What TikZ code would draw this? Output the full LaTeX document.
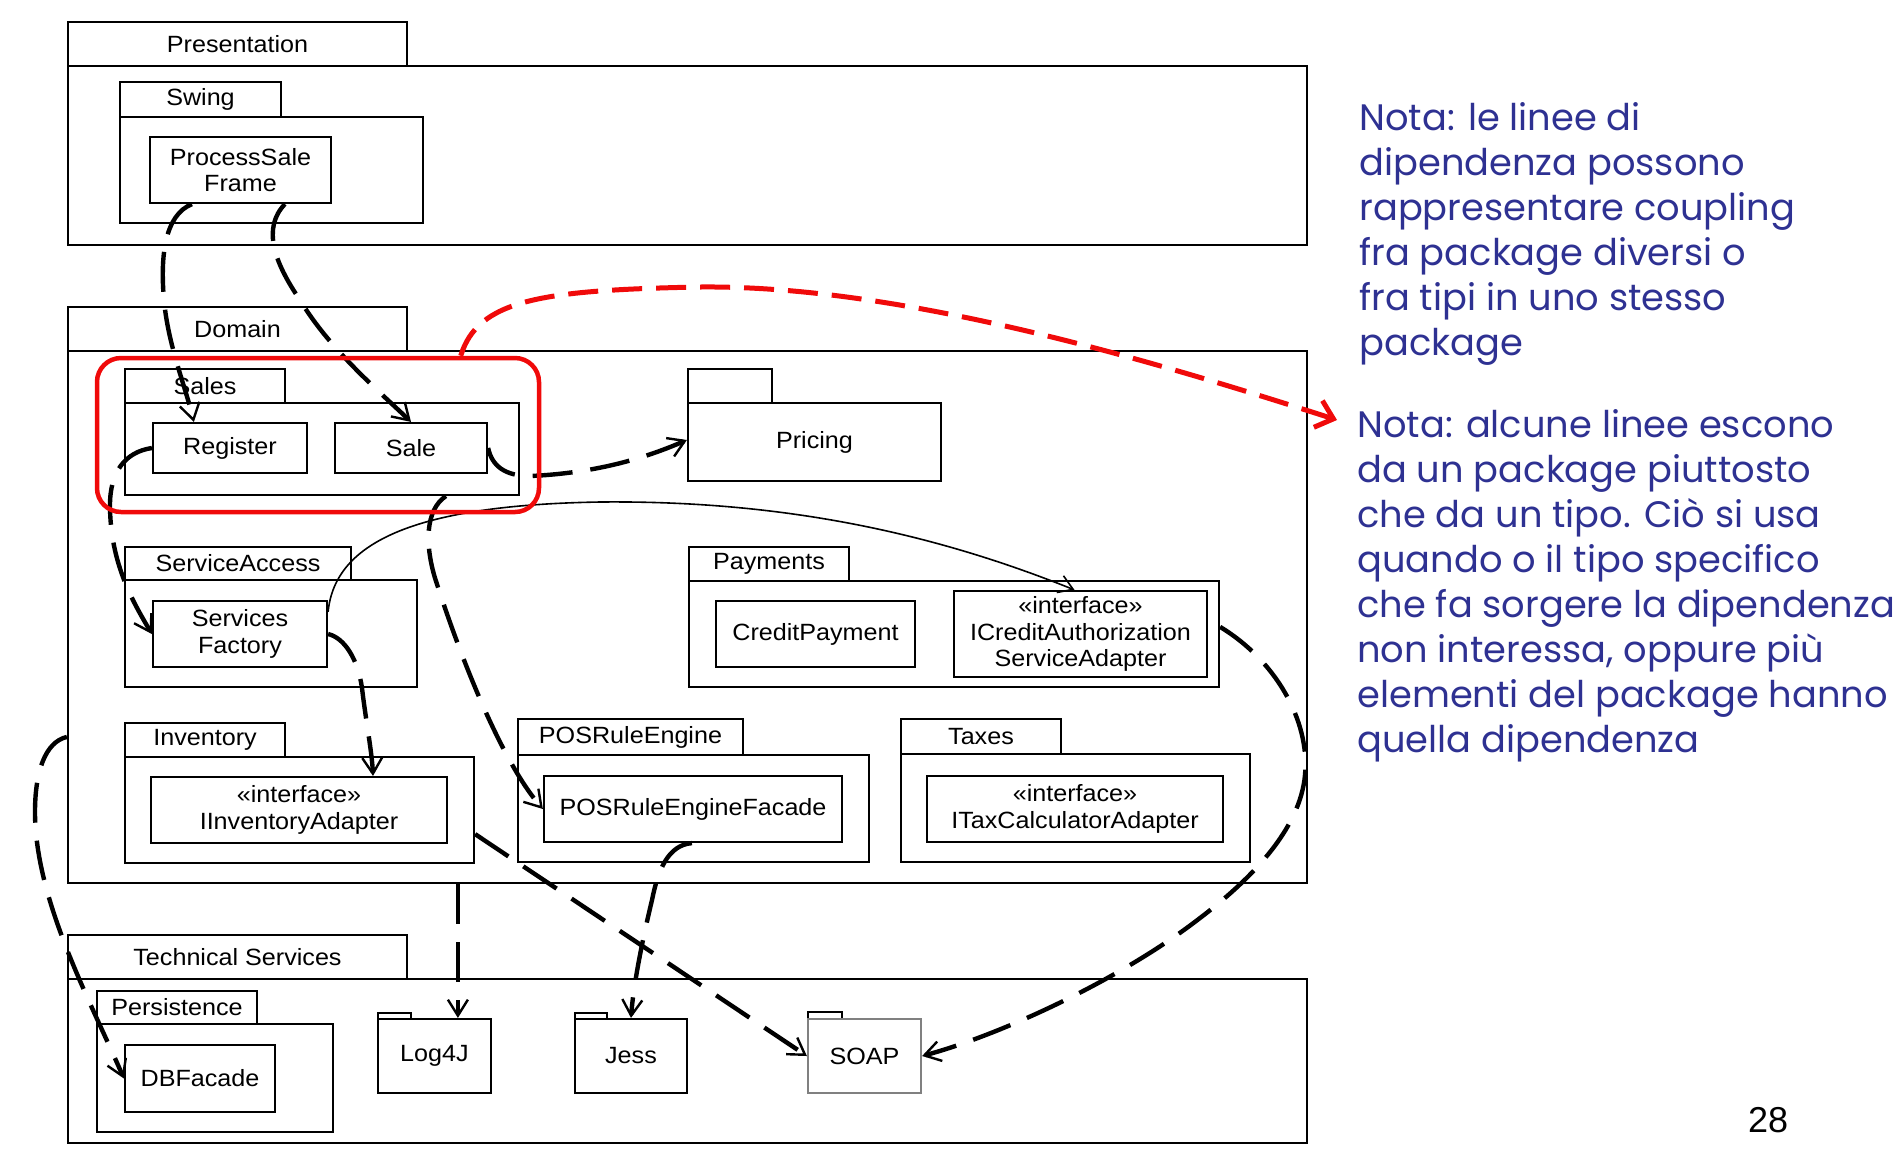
\documentclass[tikz,border=0pt]{standalone}
\usepackage{fontspec}
\usetikzlibrary{arrows.meta,calc,fit}
\newfontfamily\diagfont{Liberation Sans}[FakeStretch=1.07]
\newfontfamily\notefont{Poppins}
\newfontfamily\numfont{Liberation Sans}
\definecolor{noteblue}{RGB}{46,49,146}
\definecolor{hlred}{RGB}{240,10,10}
\begin{document}
\begin{tikzpicture}[x=0.5pt,y=-0.5pt,
  box/.style={draw, line width=1.1pt, inner sep=0pt},
  softbox/.style={box, draw=black!50},
  lbl/.style={font=\diagfont\fontsize{11.75}{13.25}\selectfont, align=center, inner sep=0pt},
  dep/.style={line width=2.2pt, dash pattern=on 20pt off 9pt, -{Straight Barb[length=8pt,width=10pt,line width=1.2pt]}},
  thinarr/.style={line width=0.8pt, -{Straight Barb[length=7pt,width=9pt,line width=0.8pt]}},
  redarr/.style={draw=hlred, line width=2.5pt, dash pattern=on 15pt off 7pt, -{Straight Barb[length=8pt,width=14pt,line width=2.5pt]}},
  note/.style={text=noteblue, font=\notefont\fontsize{18.4}{22.5}\selectfont, align=left, inner sep=0pt, anchor=north west}
]
\useasboundingbox (0,0) rectangle (1900,1158);

% Presentation
\node[box, fit={(68,22) (407,66)}, label={[lbl]center:Presentation}] (presTab) {};
\node[box, fit={(68,66) (1307,245)}] (presBody) {};
\node[box, fit={(120,82) (281,117)}, label={[lbl]center:Swing}] (swingTab) {};
\node[box, fit={(120,117) (423,223)}] (swingBody) {};
\node[box, fit={(150,137) (331,203)}, label={[lbl]center:ProcessSale\\Frame}] (psf) {};

% Domain
\node[box, fit={(68,307) (407,351)}, label={[lbl]center:Domain}] (domTab) {};
\node[box, fit={(68,351) (1307,883)}] (domBody) {};
\node[box, fit={(125,369) (285,403)}, label={[lbl]center:Sales}] (salesTab) {};
\node[box, fit={(125,403) (519,495)}] (salesBody) {};
\node[box, fit={(153,423) (307,473)}, label={[lbl]center:Register}] (reg) {};
\node[box, fit={(335,423) (487,473)}, label={[lbl]center:Sale}] (sale) {};
\node[box, fit={(688,369) (772,403)}] (pricTab) {};
\node[box, fit={(688,403) (941,481)}, label={[lbl]center:Pricing}] (pricBody) {};
\node[box, fit={(125,547) (351,580)}, label={[lbl]center:ServiceAccess}] (saTab) {};
\node[box, fit={(125,580) (417,687)}] (saBody) {};
\node[box, fit={(153,601) (327,667)}, label={[lbl]center:Services\\Factory}] (sf) {};
\node[box, fit={(689,547) (849,581)}, label={[lbl]center:Payments}] (payTab) {};
\node[box, fit={(689,581) (1219,687)}] (payBody) {};
\node[box, fit={(716,601) (915,667)}, label={[lbl]center:CreditPayment}] (cp) {};
\node[box, fit={(954,591) (1207,677)}, label={[lbl]center:«interface»\\ICreditAuthorization\\ServiceAdapter}] (icas) {};
\node[box, fit={(125,723) (285,757)}, label={[lbl]center:Inventory}] (invTab) {};
\node[box, fit={(125,757) (474,863)}] (invBody) {};
\node[box, fit={(151,777) (447,843)}, label={[lbl]center:«interface»\\IInventoryAdapter}] (iia) {};
\node[box, fit={(518,719) (743,755)}, label={[lbl]center:POSRuleEngine}] (posTab) {};
\node[box, fit={(518,755) (869,862)}] (posBody) {};
\node[box, fit={(544,776) (842,842)}, label={[lbl]center:POSRuleEngineFacade}] (posf) {};
\node[box, fit={(901,719) (1061,754)}, label={[lbl]center:Taxes}] (taxTab) {};
\node[box, fit={(901,754) (1250,862)}] (taxBody) {};
\node[box, fit={(927,776) (1223,842)}, label={[lbl]center:«interface»\\ITaxCalculatorAdapter}] (itca) {};

% Technical Services
\node[box, fit={(68,935) (407,979)}, label={[lbl]center:Technical Services}] (tsTab) {};
\node[box, fit={(68,979) (1307,1143)}] (tsBody) {};
\node[box, fit={(97,991) (257,1024)}, label={[lbl]center:Persistence}] (perTab) {};
\node[box, fit={(97,1024) (333,1132)}] (perBody) {};
\node[box, fit={(125,1045) (275,1112)}, label={[lbl]center:DBFacade}] (dbf) {};
\node[box, fit={(378,1013) (411,1019)}] (logTab) {};
\node[box, fit={(378,1019) (491,1093)}, label={[lbl]center:Log4J}] (logBody) {};
\node[box, fit={(575,1013) (607,1019)}] (jessTab) {};
\node[box, fit={(575,1019) (687,1093)}, label={[lbl]center:Jess}] (jessBody) {};
\node[box, fit={(808,1012) (842,1019)}] (soapTab) {};
\node[softbox, fit={(808,1019) (921,1093)}, label={[lbl]center:SOAP}] (soapBody) {};

% dependencies
\draw[dep] ($(psf.south west)+(43,0)$) .. controls (165,215) and (160,255) .. (164,300)
  .. controls (168,345) and (185,385) .. ($(reg.north west)+(42,0)$);
\draw[dep] ($(psf.south west)+(136,0)$) .. controls (262,228) and (274,262) .. (300,300)
  .. controls (330,350) and (380,392) .. (sale.north);
\draw[dep] (reg.west) .. controls (125,452) and (110,472) .. (110,505)
  .. controls (110,565) and (135,605) .. (sf.west);
\draw[dep] (sale.east) .. controls (492,466) and (505,476) .. (530,476)
  .. controls (600,473) and (650,456) .. ($(pricBody.west)+(0,-2)$);
\draw[dep] ($(salesBody.south west)+(322,0)$) .. controls (425,510) and (425,545) .. (435,578)
  .. controls (458,650) and (500,760) .. (posf.west);
\draw[thinarr] ($(sf.north east)+(0,12)$) .. controls (335,540) and (420,505) .. (600,502)
  .. controls (800,500) and (950,540) .. ($(icas.north)+(-6,0)$);
\draw[dep] (sf.east) .. controls (345,638) and (358,660) .. (362,688)
  .. controls (366,722) and (372,752) .. ($(iia.north)+(74,0)$);
\draw[dep] ($(domBody.north west)+(0,387)$) .. controls (45,742) and (35,772) .. (35,812)
  .. controls (35,900) and (90,1000) .. (dbf.west);
\draw[dep] ($(domBody.south west)+(391,0)$) -- ($(logBody.north west)+(81,0)$);
\draw[dep] ($(invBody.south east)+(0,-30)$) -- (soapBody.west);
\draw[dep] ($(posf.south west)+(149,0)$) .. controls (668,845) and (658,870) .. (652,900)
  .. controls (640,950) and (633,990) .. (jessBody.north);
\draw[dep] ($(payBody.north east)+(0,47)$) .. controls (1275,660) and (1310,720) .. (1305,775)
  .. controls (1300,830) and (1250,880) .. (1200,918)
  .. controls (1120,980) and (1000,1035) .. (soapBody.east);

% highlight
\node[draw=hlred, line width=2.25pt, rounded corners=12pt, inner sep=0pt, fit={(97,358) (539,512)}] (redBox) {};
\coordinate (noteTip) at (1337,420);
\draw[redarr] ($(redBox.north west)+(366,0)$) .. controls (478,300) and (540,290) .. (700,287)
  .. controls (900,285) and (1150,360) .. (noteTip);

% notes
\node[note] (note1) at (1359,102) {Nota: le linee di\\dipendenza possono\\rappresentare coupling\\fra package diversi o\\fra tipi in uno stesso\\package};
\node[note] (note2) at (1357,409) {Nota: alcune linee escono\\da un package piuttosto\\che da un tipo. Ciò si usa\\quando o il tipo specifico\\che fa sorgere la dipendenza\\non interessa, oppure più\\elementi del package hanno\\quella dipendenza};
\node[font=\numfont\fontsize{18}{18}\selectfont] (pageno) at (1768,1120) {28};
\end{tikzpicture}
\end{document}
